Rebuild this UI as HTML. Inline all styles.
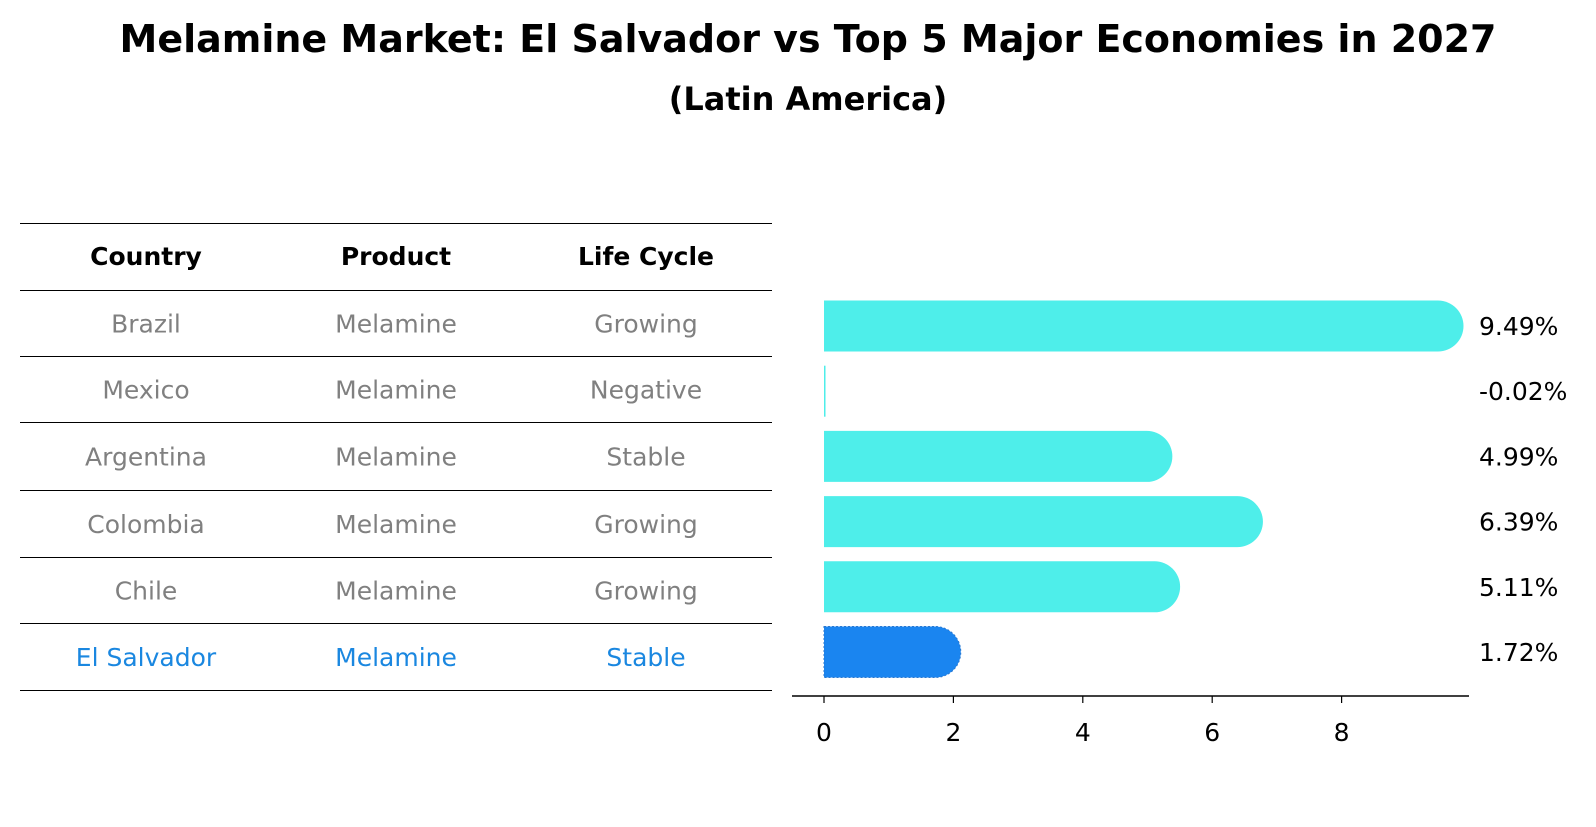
<!DOCTYPE html>
<html><head><meta charset="utf-8"><style>
body{margin:0;background:#fff;width:1596px;height:823px;overflow:hidden;font-family:"DejaVu Sans","Liberation Sans",sans-serif}
</style></head><body>
<svg width="1596" height="823" xmlns="http://www.w3.org/2000/svg" font-family="DejaVu Sans, Liberation Sans, sans-serif">
<text x="808" y="52" text-anchor="middle" font-size="38" font-weight="bold">Melamine Market: El Salvador vs Top 5 Major Economies in 2027</text>
<text x="808" y="110" text-anchor="middle" font-size="32" font-weight="bold">(Latin America)</text>
<g id="table"></g>
<g id="bars"></g>
</svg>
<script>
const countries=["Brazil","Mexico","Argentina","Colombia","Chile","El Salvador"];
const products=["Melamine","Melamine","Melamine","Melamine","Melamine","Melamine"];
const lifeCycles=["Growing","Negative","Stable","Growing","Growing","Stable"];
const values=[9.49,-0.02,4.99,6.39,5.11,1.72];
const labels=["9.49%","-0.02%","4.99%","6.39%","5.11%","1.72%"];
const ticks=[0,2,4,6,8];
const NS="http://www.w3.org/2000/svg";
function mk(t,a,p){const e=document.createElementNS(NS,t);for(const k in a)e.setAttribute(k,a[k]);p.appendChild(e);return e;}
const tbl=document.getElementById('table'),bars=document.getElementById('bars');
const lineY=[223.5,290.5,356.5,422.5,490.5,557.5,623.5,690.5];
const colX=[146,396,646];
lineY.forEach((y,i)=>{const l=mk('line',{x1:20,x2:772,y1:y,y2:y,stroke:'#000','stroke-width':1},tbl);

});
["Country","Product","Life Cycle"].forEach((h,j)=>{const t=mk('text',{x:colX[j],y:265,'text-anchor':'middle','font-size':25,'font-weight':'bold'},tbl);t.textContent=h;

});
countries.forEach((c,i)=>{const y=(lineY[i+1]+lineY[i+2])/2+9;const col=i===countries.length-1?'#1a87e0':'#808080';
[c,products[i],lifeCycles[i]].forEach((v,j)=>{const t=mk('text',{x:colX[j],y:y,'text-anchor':'middle','font-size':25,fill:col},tbl);t.textContent=v;

});});
const x0=824,unit=64.7;const xs=v=>x0+v*unit;
const rowY=i=>326+i*65.2;const bh=51,r=25.5;
const ax=mk('line',{x1:792,x2:1469,y1:696,y2:696,stroke:'#000','stroke-width':1.5},bars);


ticks.forEach(t=>{const l=mk('line',{x1:xs(t),x2:xs(t),y1:696,y2:703,stroke:'#000','stroke-width':1.2},bars);


const tx=mk('text',{x:xs(t),y:741,'text-anchor':'middle','font-size':25},bars);tx.textContent=t;

});
values.forEach((v,i)=>{const cy=rowY(i),top=cy-bh/2;const last=i===values.length-1;const fill=last?'#1a85f0':'#4eeeea';
let d;
if(Math.abs(v)<0.1){d=`M${x0} ${top} h1.5 v${bh} h-1.5 Z`;}
else{const xe=xs(v);d=`M${x0} ${top} H${xe} A${r} ${r} 0 0 1 ${xe} ${top+bh} H${x0} Z`;}
const p=mk('path',{d:d,fill:fill},bars);
if(last){p.setAttribute('stroke','#2a78d0');p.setAttribute('stroke-dasharray','2 2');p.setAttribute('stroke-width','1');}


const t=mk('text',{x:1479,y:cy+9,'font-size':25},bars);t.textContent=labels[i];

});
</script>
</body></html>
